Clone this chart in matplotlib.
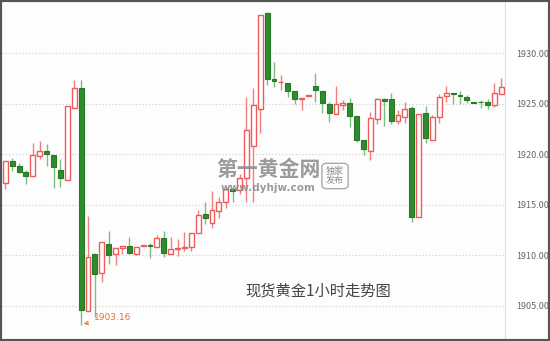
import numpy as np
import matplotlib
matplotlib.use("Agg")
import matplotlib.pyplot as plt
from matplotlib.patches import FancyBboxPatch

plt.rcParams['font.family'] = ['Noto Sans CJK SC', 'DejaVu Sans']

#====== Datos ======
apertura = [1917.2, 1919.34, 1918.85, 1918.28, 1917.89, 1919.8, 1920.36, 1919.93, 1918.45, 1917.46,
            1924.62, 1926.6, 1904.52, 1910.1, 1908.22, 1911.12, 1910.13, 1910.7, 1910.96, 1910.13,
            1910.95, 1910.96, 1910.86, 1911.68, 1910.13, 1910.63, 1910.7, 1910.86, 1912.18, 1914.06,
            1913.23, 1914.42, 1915.25, 1916.53, 1916.47, 1917.69, 1920.82, 1924.46, 1933.96, 1927.5,
            1927.15, 1927.1, 1926.3, 1925.45, 1925.82, 1926.77, 1926.27, 1925.02, 1923.96, 1924.9,
            1925.05, 1923.8, 1921.42, 1920.33, 1923.47, 1925.48, 1925.45, 1923.3, 1923.66, 1924.55,
            1913.83, 1924.06, 1921.42, 1923.73, 1925.77, 1926.04, 1925.8, 1925.71, 1925.12, 1925.2,
            1925.2, 1924.88, 1925.94]
cierre = [1919.34, 1918.88, 1918.28, 1917.89, 1919.93, 1920.36, 1920.0, 1918.78, 1917.62, 1924.79,
          1926.6, 1904.59, 1909.87, 1908.15, 1911.35, 1910.03, 1910.76, 1910.96, 1910.2, 1910.86,
          1911.0, 1910.94, 1911.68, 1910.2, 1910.6, 1910.76, 1910.86, 1912.18, 1913.99, 1913.66,
          1914.49, 1915.25, 1916.53, 1916.37, 1917.69, 1922.41, 1924.88, 1933.8, 1927.43, 1927.26,
          1927.2, 1926.3, 1925.45, 1925.6, 1925.86, 1926.37, 1925.1, 1924.06, 1924.98, 1925.05,
          1923.8, 1921.42, 1920.53, 1923.56, 1925.45, 1925.3, 1923.3, 1923.89, 1924.49, 1913.76,
          1923.96, 1921.65, 1923.66, 1925.71, 1926.1, 1925.94, 1925.77, 1925.38, 1925.08, 1925.15,
          1924.9, 1926.04, 1926.7]
maximo = [1919.34, 1919.6, 1919.17, 1918.5, 1921.09, 1921.35, 1921.0, 1919.93, 1919.5, 1924.79,
          1927.36, 1927.4, 1913.9, 1910.26, 1911.35, 1912.4, 1910.76, 1910.96, 1911.8, 1910.86,
          1911.0, 1911.2, 1912.0, 1912.4, 1911.8, 1911.6, 1912.3, 1912.18, 1914.49, 1915.25,
          1916.37, 1915.8, 1916.8, 1916.7, 1918.1, 1925.7, 1926.53, 1933.8, 1934.1, 1929.17,
          1927.85, 1927.1, 1926.3, 1925.6, 1925.86, 1928.09, 1926.27, 1925.2, 1926.77, 1925.4,
          1925.6, 1923.8, 1921.42, 1924.22, 1925.54, 1925.54, 1926.04, 1924.39, 1925.2, 1924.78,
          1923.96, 1924.78, 1923.89, 1925.94, 1926.77, 1926.04, 1926.3, 1925.87, 1925.12, 1925.4,
          1925.5, 1927.03, 1927.52]
minimo = [1916.53, 1918.35, 1918.18, 1917.03, 1917.89, 1919.5, 1918.9, 1916.7, 1916.8, 1917.46,
          1924.62, 1903.16, 1904.52, 1903.9, 1907.4, 1909.2, 1909.04, 1910.13, 1910.13, 1910.0,
          1910.95, 1909.7, 1910.86, 1909.8, 1910.13, 1909.93, 1910.46, 1910.46, 1912.18, 1913.1,
          1912.67, 1913.66, 1914.65, 1915.3, 1916.04, 1915.3, 1915.3, 1922.15, 1926.86, 1926.63,
          1926.4, 1925.64, 1924.99, 1924.4, 1925.82, 1925.2, 1924.06, 1923.17, 1923.96, 1924.4,
          1922.74, 1921.2, 1919.93, 1919.44, 1922.97, 1922.84, 1922.97, 1922.97, 1923.14, 1913.33,
          1913.83, 1921.09, 1921.42, 1923.07, 1925.2, 1924.99, 1924.99, 1925.05, 1925.08, 1924.6,
          1924.5, 1924.65, 1925.94]

marcas_y = [1905, 1910, 1915, 1920, 1925, 1930]
titulo = "现货黄金1小时走势图"
minimo_valor = 1903.16

#====== Figura ======
fig = plt.figure(figsize=(5.5, 3.41), dpi=100)
fig.patch.set_facecolor("white")
ax = fig.add_axes([2/550, 3/341, 503/550, 336/341])
ax.set_facecolor("#fdfdfd")

rojo = "#f05a5a"
rojo_mecha = "#f08080"
verde = "#2e8b2e"
verde_mecha = "#7cbf7c"
ancho = 0.72

for i in range(len(apertura)):
    o, c, h, l = apertura[i], cierre[i], maximo[i], minimo[i]
    sube = c >= o
    if sube:
        ax.vlines(i, l, h, color=rojo_mecha, lw=1, zorder=2)
        alto = max(c - o, 0.06)
        ax.bar(i, alto, bottom=o, width=ancho, facecolor="white",
               edgecolor=rojo, linewidth=1, zorder=3)
    else:
        ax.vlines(i, l, h, color=verde_mecha, lw=1, zorder=2)
        alto = max(o - c, 0.06)
        ax.bar(i, alto, bottom=c, width=ancho, facecolor=verde,
               edgecolor="#267a26", linewidth=0.8, zorder=3)

ax.set_xlim(-0.48, len(apertura) - 0.47)
ax.set_ylim(1901.83, 1935.08)

ax.set_yticks(marcas_y)
ax.set_yticklabels([f"{v:.2f}" for v in marcas_y])
ax.yaxis.tick_right()
ax.tick_params(axis="y", length=0, pad=8, labelsize=6.5, labelcolor="#666666")
ax.set_xticks([])
ax.grid(axis="y", color="#cccccc", linestyle=(0, (1, 2)), linewidth=0.8)
ax.set_axisbelow(True)
for lado in ["top", "bottom", "left"]:
    ax.spines[lado].set_visible(False)
ax.spines["right"].set_color("#dddddd")

# Etiqueta del mínimo
i_min = minimo.index(minimo_valor)
ax.annotate(f"{minimo_valor:.2f}", xy=(i_min, minimo_valor), xytext=(i_min + 1.9, minimo_valor + 0.45),
            fontsize=6.5, color="#e8712a", family="DejaVu Sans",
            arrowprops=dict(arrowstyle="->", color="#e8712a", lw=0.7))

# Título dentro del gráfico
fig.text(318/550, 1 - 291/341, titulo, fontsize=11, color="#444444", ha="center", va="center")

# Marca de agua
fig.text(268/550, 1 - 169/341, "第一黄金网", fontsize=15, fontweight="bold",
         color="#8a8a8a", alpha=0.85, ha="center", va="center")
fig.text(268/550, 1 - 188/341, "www.dyhjw.com", fontsize=7.5, fontweight="bold",
         color="#8a8a8a", alpha=0.85, ha="center", va="center", family="DejaVu Sans")
caja = FancyBboxPatch((323/550, 1 - 188/341), 24/550, 24/341,
                      boxstyle="round,pad=0.002,rounding_size=0.01", transform=fig.transFigure,
                      facecolor="none", edgecolor="#9a9a9a", lw=1, alpha=0.85)
fig.patches.append(caja)
fig.text(335/550, 1 - 176/341, "独家\n发布", fontsize=6.5, color="#8a8a8a",
         ha="center", va="center", linespacing=1.0)

# Marco exterior
marco = plt.Rectangle((0, 0), 1, 1, transform=fig.transFigure, fill=False,
                      edgecolor="#555555", lw=3)
fig.patches.append(marco)

fig.savefig("out.png", dpi=100)
